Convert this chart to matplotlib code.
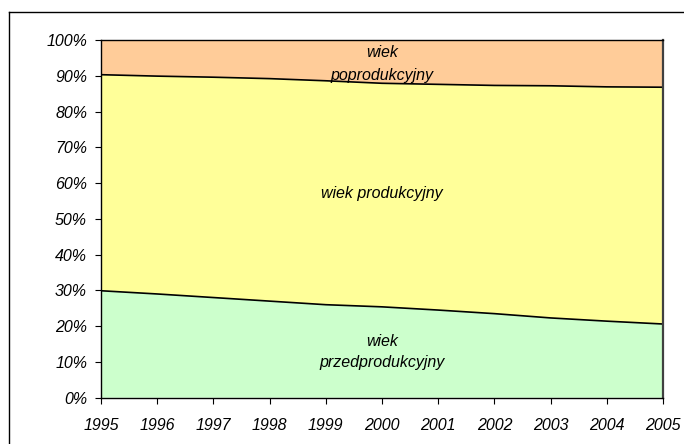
import matplotlib
matplotlib.use('Agg')
import matplotlib.pyplot as plt
from matplotlib.ticker import FuncFormatter
from matplotlib.lines import Line2D

plt.rcParams['font.family'] = ['Liberation Sans', 'DejaVu Sans']

lata = [1995, 1996, 1997, 1998, 1999, 2000, 2001, 2002, 2003, 2004, 2005]
# udział grup wieku w ludności (%)
przedprodukcyjny = [29.9, 29.0, 28.0, 27.0, 26.0, 25.4, 24.5, 23.5, 22.3, 21.4, 20.6]
produkcyjny = [60.4, 60.9, 61.6, 62.2, 62.6, 62.5, 63.1, 63.8, 64.9, 65.5, 66.2]
poprodukcyjny = [9.7, 10.1, 10.4, 10.8, 11.4, 12.1, 12.4, 12.7, 12.8, 13.1, 13.2]

kolory = ['#CCFFCC', '#FFFF99', '#FFCC99']
opisy = ['wiek\nprzedprodukcyjny', 'wiek produkcyjny', 'wiek\npoprodukcyjny']
fs = 11.5

fig = plt.figure(figsize=(6.84, 4.44), dpi=100)
ax = fig.add_axes([101 / 684, 1 - 397.7 / 444, 562 / 684, 357.7 / 444])

ax.stackplot(lata, przedprodukcyjny, produkcyjny, poprodukcyjny,
             colors=kolory, edgecolor='none')

# linie granic
dol = przedprodukcyjny
gora = [a + b for a, b in zip(przedprodukcyjny, produkcyjny)]
ax.plot(lata, dol, color='black', lw=1.2)
ax.plot(lata, gora, color='black', lw=1.2)

ax.set_xlim(1995, 2005)
ax.set_ylim(0, 100)
ax.set_xticks(lata)
ax.set_yticks(range(0, 101, 10))
ax.yaxis.set_major_formatter(FuncFormatter(lambda v, p: '%d%%' % v))

for lab in ax.get_xticklabels() + ax.get_yticklabels():
    lab.set_fontstyle('italic')
    lab.set_fontsize(fs)
ax.tick_params(axis='x', direction='out', length=4, width=0.8, pad=10.5)
ax.tick_params(axis='y', direction='out', length=4, width=0.8, pad=6)

for s in ['left', 'top', 'bottom']:
    ax.spines[s].set_color('black')
    ax.spines[s].set_linewidth(1.0)
ax.spines['right'].set_color('#404040')
ax.spines['right'].set_linewidth(1.6)

# opisy warstw
ax.text(2000, 93.2, opisy[2], ha='center', va='center', fontsize=fs,
        fontstyle='italic', linespacing=1.65)
ax.text(2000, 57.0, opisy[1], ha='center', va='center', fontsize=fs,
        fontstyle='italic')
ax.text(2000, 12.8, opisy[0], ha='center', va='center', fontsize=fs,
        fontstyle='italic', linespacing=1.55)

# ramka wykresu (lewa i górna krawędź)
x0, y0 = 9 / 684, 1 - 12 / 444
fig.add_artist(Line2D([x0, x0], [0, y0], transform=fig.transFigure,
                      color='black', lw=1.0))
fig.add_artist(Line2D([x0, 1.01], [y0, y0], transform=fig.transFigure,
                      color='black', lw=1.0))

fig.savefig('out.png', dpi=100)
